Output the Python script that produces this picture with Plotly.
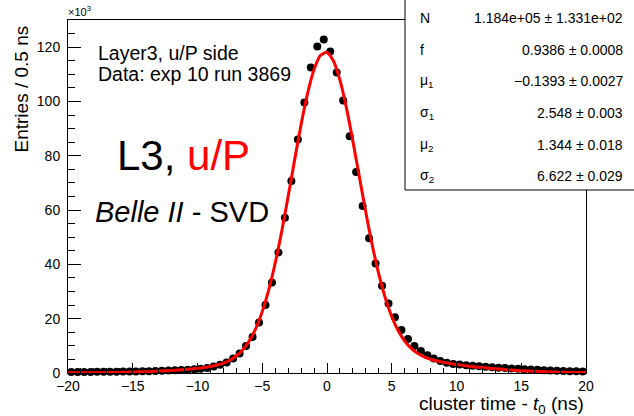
import plotly.graph_objects as go

# ---------------- data (entries in units of 10^3) ----------------
bin_centers = [-19.75, -19.25, -18.75, -18.25, -17.75, -17.25, -16.75, -16.25, -15.75, -15.25,
               -14.75, -14.25, -13.75, -13.25, -12.75, -12.25, -11.75, -11.25, -10.75, -10.25,
               -9.75, -9.25, -8.75, -8.25, -7.75, -7.25, -6.75, -6.25, -5.75, -5.25,
               -4.75, -4.25, -3.75, -3.25, -2.75, -2.25, -1.75, -1.25, -0.75, -0.25,
               0.25, 0.75, 1.25, 1.75, 2.25, 2.75, 3.25, 3.75, 4.25, 4.75,
               5.25, 5.75, 6.25, 6.75, 7.25, 7.75, 8.25, 8.75, 9.25, 9.75,
               10.25, 10.75, 11.25, 11.75, 12.25, 12.75, 13.25, 13.75, 14.25, 14.75,
               15.25, 15.75, 16.25, 16.75, 17.25, 17.75, 18.25, 18.75, 19.25, 19.75]
entries_k = [0.35, 0.36, 0.38, 0.40, 0.42, 0.44, 0.46, 0.49, 0.52, 0.55,
             0.59, 0.63, 0.68, 0.74, 0.82, 0.90, 1.00, 1.10, 1.22, 1.38,
             1.58, 1.80, 2.4, 3.0, 3.9, 5.3, 7.2, 9.9, 13.3, 18.6,
             25.0, 33.3, 44.4, 57.2, 70.7, 86.0, 99.6, 112.5, 120.2, 122.8,
             118.4, 110.7, 100.4, 87.2, 74.0, 61.5, 49.6, 40.3, 32.1, 25.6,
             20.5, 15.8, 12.5, 9.9, 8.1, 6.5, 5.3, 4.4, 3.8, 3.3,
             3.1, 2.85, 2.65, 2.45, 2.3, 2.1, 1.95, 1.8, 1.65, 1.52,
             1.4, 1.28, 1.16, 1.05, 0.95, 0.86, 0.77, 0.68, 0.6, 0.55]

# fit curve
fit_x = [-20, -19, -18, -17, -16, -15, -14, -13, -12, -11, -10,
         -9.5, -9, -8.5, -8, -7.5, -7, -6.5, -6, -5.5, -5, -4.5, -4, -3.5, -3, -2.5, -2, -1.5, -1, -0.5,
         0, 0.5, 1, 1.5, 2, 2.5, 3, 3.5, 4, 4.5, 5, 5.5, 6, 6.5, 7, 7.5, 8, 8.5, 9, 9.5,
         10, 11, 12, 13, 14, 15, 16, 17, 18, 19, 20]
fit_y_k = [0.04, 0.065, 0.10, 0.16, 0.24, 0.35, 0.50, 0.70, 0.96, 1.29, 1.74,
           2.03, 2.41, 2.92, 3.64, 4.69, 6.25, 8.53, 11.82, 16.41, 22.61, 30.62, 40.51, 52.13, 65.03,
           78.49, 91.52, 102.98, 111.79, 117.01,
           118.09, 114.90, 107.83, 97.62, 85.35, 72.15, 59.07, 46.97, 36.42, 27.67, 20.78, 15.57,
           11.78, 9.10, 7.24, 5.96, 5.06, 4.41, 3.91, 3.49,
           3.13, 2.52, 1.99, 1.54, 1.17, 0.87, 0.63, 0.44, 0.31, 0.21, 0.14]

stat_labels = ["N", "f", "μ<sub>1</sub>", "σ<sub>1</sub>", "μ<sub>2</sub>", "σ<sub>2</sub>"]
stat_values = ["1.184e+05 ± 1.331e+02", "0.9386 ± 0.0008", "−0.1393 ± 0.0027",
               "2.548 ± 0.003", "1.344 ± 0.018", "6.622 ± 0.029"]

x_ticks = [-20, -15, -10, -5, 0, 5, 10, 15, 20]
y_ticks = [0, 20, 40, 60, 80, 100, 120]

# ---------------- layout geometry ----------------
W, H = 634, 416
L, R, T, B = 68, 48, 20, 43
PW, PH = W - L - R, H - T - B


def px(x):
    return (x - L) / PW


def py(y):
    return (H - B - y) / PH


FONT = "Liberation Sans, Arial, Helvetica, sans-serif"

fig = go.Figure()
fig.add_trace(go.Scatter(x=bin_centers, y=entries_k, mode="markers",
                         marker=dict(color="black", size=8), showlegend=False,
                         cliponaxis=False))
fig.add_trace(go.Scatter(x=fit_x, y=fit_y_k, mode="lines",
                         line=dict(color="#ff0000", width=3, shape="spline", smoothing=0.6),
                         showlegend=False))

axis_font = dict(family=FONT, size=14, color="black")
fig.update_xaxes(range=[-20, 20], tickvals=x_ticks, ticks="inside", ticklen=10, tickwidth=1,
                 tickcolor="black", minor=dict(dtick=1, ticks="inside", ticklen=5, tickcolor="black"),
                 showline=True, linecolor="black", linewidth=1, mirror=True,
                 showgrid=False, zeroline=False, tickfont=axis_font, automargin=False)
fig.update_yaxes(range=[0, 130], tickvals=y_ticks, ticks="inside", ticklen=13, tickwidth=1,
                 tickcolor="black", minor=dict(dtick=5, ticks="inside", ticklen=7, tickcolor="black"),
                 showline=True, linecolor="black", linewidth=1, mirror=True,
                 showgrid=False, zeroline=False, tickfont=axis_font, automargin=False,
                 ticklabelstandoff=4)

shapes = [dict(type="rect", xref="paper", yref="paper", x0=px(405), x1=px(650), y0=py(190), y1=py(-10),
               line=dict(color="black", width=1), fillcolor="white", layer="above")]

ann = []
# stats box
row_y = [18, 50, 81, 113, 145, 176]
for lab, val, yy in zip(stat_labels, stat_values, row_y):
    ann.append(dict(x=px(418), y=py(yy), xref="paper", yref="paper", text=lab, showarrow=False,
                    xanchor="left", yanchor="middle", font=dict(family=FONT, size=14, color="black")))
    ann.append(dict(x=px(625), y=py(yy), xref="paper", yref="paper", text=val, showarrow=False,
                    xanchor="right", yanchor="middle", font=dict(family=FONT, size=14, color="black")))

# texts inside the pad
ann.append(dict(x=px(96), y=py(53), xref="paper", yref="paper", text="Layer3, u/P side",
                showarrow=False, xanchor="left", yanchor="middle",
                font=dict(family=FONT, size=19.5, color="black")))
ann.append(dict(x=px(96), y=py(74), xref="paper", yref="paper", text="Data: exp 10 run 3869",
                showarrow=False, xanchor="left", yanchor="middle",
                font=dict(family=FONT, size=19.5, color="black")))
ann.append(dict(x=px(115), y=py(155), xref="paper", yref="paper",
                text="L3, <span style='color:#ff0000'>u/P</span>",
                showarrow=False, xanchor="left", yanchor="middle",
                font=dict(family=FONT, size=42, color="black")))
ann.append(dict(x=px(93), y=py(212), xref="paper", yref="paper", text="<i>Belle II</i> - SVD",
                showarrow=False, xanchor="left", yanchor="middle",
                font=dict(family=FONT, size=29, color="black")))

# axis titles
ann.append(dict(x=px(586), y=py(405), xref="paper", yref="paper",
                text="cluster time - <i>t</i><sub>0</sub> (ns)", showarrow=False,
                xanchor="right", yanchor="middle", font=dict(family=FONT, size=19, color="black")))
ann.append(dict(x=px(21), y=py(24), xref="paper", yref="paper", text="Entries / 0.5 ns",
                textangle=-90, showarrow=False, xanchor="center", yanchor="top",
                font=dict(family=FONT, size=19, color="black")))
ann.append(dict(x=px(66), y=py(20), xref="paper", yref="paper", text="×10<sup>3</sup>",
                showarrow=False, xanchor="left", yanchor="bottom",
                font=dict(family=FONT, size=11, color="black")))

fig.update_layout(width=W, height=H, margin=dict(l=L, r=R, t=T, b=B, pad=0),
                  paper_bgcolor="white", plot_bgcolor="white",
                  shapes=shapes, annotations=ann, showlegend=False)

fig.write_html("out.html")
